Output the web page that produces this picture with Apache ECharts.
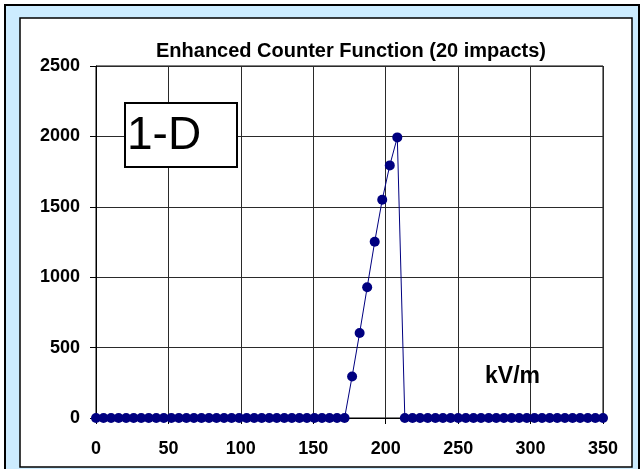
<!DOCTYPE html>
<html>
<head>
<meta charset="utf-8">
<script src="https://cdn.jsdelivr.net/npm/echarts@6/dist/echarts.min.js"></script>
<style>
html,body{margin:0;padding:0;background:#fff;}
#chart{width:641px;height:469px;}
</style>
</head>
<body>
<div id="chart"></div>
<script>
// Field strength (kV/m) for each sample
const fieldKV = [
  0, 5.2, 10.4, 15.6, 20.8, 26, 31.2, 36.4, 41.6, 46.8, 52, 57.2, 62.4, 67.6, 72.8, 78,
  83.2, 88.4, 93.6, 98.8, 104, 109.2, 114.4, 119.6, 124.8, 130, 135.2, 140.4, 145.6,
  150.8, 156, 161.2, 166.4, 171.6,
  176.8, 182, 187.2, 192.4, 197.6, 202.8, 208,
  213.2, 218.5, 223.7, 229, 234.3, 239.5, 244.8, 250, 255.3, 260.6, 265.8, 271.1,
  276.3, 281.6, 286.9, 292.1, 297.4, 302.7, 307.9, 313.2, 318.4, 323.7, 329, 334.2,
  339.5, 344.7, 350
];
// Counter values
const counts = [
  0, 0, 0, 0, 0, 0, 0, 0, 0, 0, 0, 0, 0, 0, 0, 0,
  0, 0, 0, 0, 0, 0, 0, 0, 0, 0, 0, 0, 0,
  0, 0, 0, 0, 0,
  295, 604, 928, 1252, 1550, 1794, 1993,
  0, 0, 0, 0, 0, 0, 0, 0, 0, 0, 0, 0,
  0, 0, 0, 0, 0, 0, 0, 0, 0, 0, 0, 0,
  0, 0, 0
];
const xTicks = [0, 50, 100, 150, 200, 250, 300, 350];
const yTicks = [0, 500, 1000, 1500, 2000, 2500];
const titleText = 'Enhanced Counter Function (20 impacts)';
const unitText = 'kV/m';
const panelText = '1-D';

const points = fieldKV.map((x, i) => [x, counts[i]]);
const font = '"Liberation Sans", Arial, sans-serif';

const chart = echarts.init(document.getElementById('chart'), null, {renderer: 'canvas'});
chart.setOption({
  animation: false,
  backgroundColor: '#ffffff',
  title: {
    text: titleText,
    left: 346, top: 36, textAlign: 'center',
    textStyle: {fontFamily: font, fontSize: 20, fontWeight: 'bold', color: '#000'}
  },
  grid: {
    left: 96, right: 38, top: 66, bottom: 51,
    show: true, borderColor: '#000', borderWidth: 1, backgroundColor: 'transparent'
  },
  xAxis: {
    type: 'value', min: xTicks[0], max: xTicks[xTicks.length - 1], interval: 50,
    axisLine: {show: true, lineStyle: {color: '#000', width: 1}},
    axisTick: {show: true, inside: false, length: 6, lineStyle: {color: '#000'}},
    axisLabel: {margin: 22, fontFamily: font, fontSize: 18, fontWeight: 'bold', color: '#000',
                formatter: v => String(v)},
    splitLine: {show: true, lineStyle: {color: '#2a2a2a', width: 1}}
  },
  yAxis: {
    type: 'value', min: yTicks[0], max: yTicks[yTicks.length - 1], interval: 500,
    axisLine: {show: true, onZero: false, lineStyle: {color: '#000', width: 1}},
    axisTick: {show: true, inside: false, length: 6, lineStyle: {color: '#000'}},
    axisLabel: {margin: 16, fontFamily: font, fontSize: 18, fontWeight: 'bold', color: '#000',
                formatter: v => String(v)},
    splitLine: {show: true, lineStyle: {color: '#2a2a2a', width: 1}}
  },
  series: [{
    type: 'line',
    data: points,
    clip: false,
    symbol: 'circle',
    symbolSize: 10,
    itemStyle: {color: '#000080'},
    lineStyle: {color: '#000080', width: 1},
    z: 5
  }],
  graphic: [
    {type: 'rect', z: -20, silent: true,
     shape: {x: 5, y: 5, width: 634, height: 480},
     style: {fill: '#CCECFF', stroke: '#000', lineWidth: 2}},
    {type: 'rect', z: -10, silent: true,
     shape: {x: 20, y: 18, width: 612, height: 449},
     style: {fill: '#ffffff', stroke: '#000', lineWidth: 1.5}},
    {type: 'rect', z: 100, silent: true,
     shape: {x: 125, y: 103, width: 112, height: 64},
     style: {fill: '#ffffff', stroke: '#000', lineWidth: 2}},
    {type: 'text', z: 101, silent: true, left: 127, top: 113,
     style: {text: panelText, fontFamily: font, fontSize: 46, fill: '#000'}},
    {type: 'text', z: 101, silent: true, left: 485, top: 365,
     style: {text: unitText, fontFamily: font, fontSize: 23, fontWeight: 'bold', fill: '#000'}}
  ]
});
</script>
</body>
</html>
